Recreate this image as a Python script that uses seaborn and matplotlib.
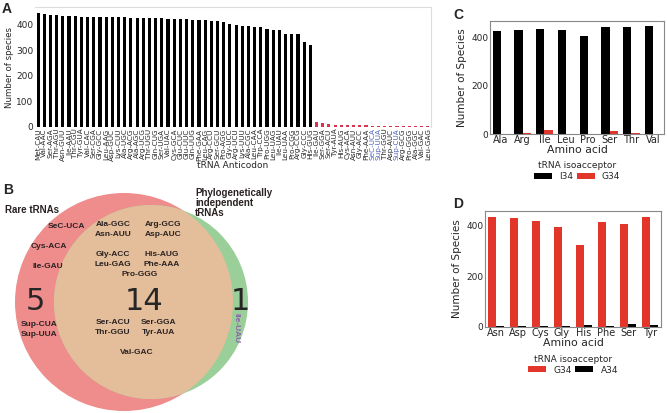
import pandas as pd
import seaborn as sns
import matplotlib.pyplot as plt
from matplotlib.patches import Circle

sns.set_style("white")
plt.rcParams["font.family"] = ["DejaVu Sans"]

# Panel A: number of species carrying each tRNA anticodon
common_anticodons = [
    "Met-CAU", "Val-AAC", "Ser-AGA", "Thr-AGU", "Asn-GUU", "Ile-AAU", "Thr-CGU", "Tyr-GUA",
    "Val-CAC", "Ser-CGA", "Gly-GCC", "Leu-AAG", "Asp-GUC", "Lys-CUU", "Ala-UGC", "Arg-ACG",
    "Ala-AGC", "Arg-UCG", "Thr-UGU", "Gln-CUG", "Ser-UGA", "Val-UAC", "Cys-GCA", "Glu-CUC",
    "Glu-UUC", "Gln-UUG", "Phe-GAA", "Leu-CAG", "Arg-CCU", "Ser-GCU", "Pro-AGG", "Gly-UCC",
    "Arg-UCU", "Lys-UUU", "Ala-CGC", "Leu-CAA", "Trp-CCA", "Pro-UGG", "Leu-UAG", "Ile-UAU",
    "Leu-UAA", "Pro-CGG", "Arg-CCG", "Gly-CCC", "His-GUG",
]
common_counts = [
    448, 443, 440, 439, 435, 433, 433, 432, 431, 430,
    430, 430, 429, 429, 429, 428, 428, 427, 427, 426,
    425, 424, 424, 423, 422, 421, 419, 418, 417, 414,
    412, 404, 398, 397, 396, 393, 391, 384, 381, 380,
    366, 364, 364, 333, 321,
]
rare_anticodons = [
    "Ile-GAU", "Ser-GGA", "Ser-ACU", "Tyr-AUA", "His-AUG", "Cys-ACA", "Asn-AUU", "Gly-ACC",
    "Phe-AAA", "SeC-UCA", "Sup-UUA", "Thr-GGU", "Asp-AUC", "Sup-CUA", "Arg-GCG", "Pro-GGG",
    "Ala-GGC", "Val-GAC", "Leu-GAG",
]
rare_counts = [18, 14, 11, 9, 8, 7, 7, 6, 6, 5, 5, 4, 4, 4, 3, 3, 3, 2, 2]
special_labels = ["SeC-UCA", "Sup-UUA", "Sup-CUA"]

# Panel B: Venn diagram contents
rare_only = ["SeC-UCA", "Cys-ACA", "Ile-GAU", "Sup-CUA", "Sup-UUA"]
shared = ["Ala-GGC", "Asn-AUU", "Arg-GCG", "Asp-AUC", "Gly-ACC", "Leu-GAG", "His-AUG",
          "Phe-AAA", "Pro-GGG", "Ser-ACU", "Thr-GGU", "Ser-GGA", "Tyr-AUA", "Val-GAC"]
independent_only = ["Ile-UAU"]

# Panel C: I34 vs G34 isoacceptors
c_amino = ["Ala", "Arg", "Ile", "Leu", "Pro", "Ser", "Thr", "Val"]
c_i34 = [425, 430, 433, 430, 406, 441, 440, 444]
c_g34 = [2, 4, 17, 0, 2, 13, 3, 1]

# Panel D: G34 vs A34 isoacceptors
d_amino = ["Asn", "Asp", "Cys", "Gly", "His", "Phe", "Ser", "Tyr"]
d_g34 = [436, 429, 420, 394, 323, 413, 407, 433]
d_a34 = [5, 2, 5, 5, 7, 5, 10, 8]

red_a = "#d8344f"
red = "#e2362b"
W, H = 667, 413


def px_axes(fig, left, top, right, bottom):
    return fig.add_axes([left / W, 1 - bottom / H, (right - left) / W, (bottom - top) / H])


fig = plt.figure(figsize=(6.67, 4.13), dpi=100)

# ---------------- A
df_a = pd.DataFrame({
    "anticodon": common_anticodons + rare_anticodons,
    "species": common_counts + rare_counts,
    "group": ["common"] * len(common_anticodons) + ["rare"] * len(rare_anticodons),
})
ax_a = px_axes(fig, 35, 7, 431, 127)
sns.barplot(data=df_a, x="anticodon", y="species", hue="group",
            palette={"common": "black", "rare": red_a}, dodge=False, width=0.5,
            saturation=1, linewidth=0, legend=False, ax=ax_a)
ax_a.set_ylim(0, 470)
ax_a.set_yticks([0, 100, 200, 300, 400])
ax_a.tick_params(axis="y", labelsize=6.5, pad=1, length=0)
ax_a.tick_params(axis="x", labelsize=5.2, pad=1, length=0, rotation=90)
ax_a.set_ylabel("Number of species", fontsize=6.2, labelpad=2)
ax_a.set_xlabel("tRNA Anticodon", fontsize=6.5, labelpad=0)
for lab in ax_a.get_xticklabels():
    if lab.get_text() in special_labels:
        lab.set_color("#4a64b8")
for side in ["left", "bottom"]:
    ax_a.spines[side].set_visible(False)
for side in ["top", "right"]:
    ax_a.spines[side].set_color("#dddddd")
    ax_a.spines[side].set_linewidth(0.8)


# ---------------- C and D
def iso_panel(ax, amino, first, second, names, colors, legend_y):
    df = pd.DataFrame({
        "amino": amino * 2,
        "count": first + second,
        "iso": [names[0]] * len(amino) + [names[1]] * len(amino),
    })
    sns.barplot(data=df, x="amino", y="count", hue="iso", palette=colors,
                width=0.76, saturation=1, linewidth=0, ax=ax)
    ax.set_yticks([0, 200, 400])
    ax.tick_params(axis="y", labelsize=6.5, pad=1, length=0)
    ax.tick_params(axis="x", labelsize=7, pad=1, length=0)
    ax.set_ylabel("Number of Species", fontsize=7.5, labelpad=3)
    ax.set_xlabel("Amino acid", fontsize=7.8, labelpad=0)
    for s in ax.spines.values():
        s.set_color("#888888")
        s.set_linewidth(0.8)
    sns.move_legend(ax, "upper center", bbox_to_anchor=(0.5, legend_y), ncol=2,
                    title="tRNA isoacceptor", frameon=False, fontsize=6.5,
                    title_fontsize=6.5, handlelength=2.0, handleheight=0.6,
                    columnspacing=0.4, handletextpad=0.8, borderpad=0,
                    labelspacing=0.2)


ax_c = px_axes(fig, 490, 21, 664, 134)
iso_panel(ax_c, c_amino, c_i34, c_g34, ["I34", "G34"], ["black", red], -0.2)
ax_d = px_axes(fig, 485, 211, 661, 327)
iso_panel(ax_d, d_amino, d_g34, d_a34, ["G34", "A34"], [red, "black"], -0.2)

# ---------------- B (Venn), drawn in pixel coordinates
ax_b = fig.add_axes([0, 0, 1, 1], zorder=-1)
ax_b.set_xlim(0, W)
ax_b.set_ylim(H, 0)
ax_b.set_axis_off()

rare_circle = Circle((124, 302), 109, facecolor="#ef8d8d", edgecolor="none")
indep_circle = Circle((151, 302), 97, facecolor="#9bcf99", edgecolor="none")
ax_b.add_patch(rare_circle)
ax_b.add_patch(indep_circle)
overlap = Circle((151, 302), 97, facecolor="#e4be9a", edgecolor="none")
ax_b.add_patch(overlap)
overlap.set_clip_path(rare_circle)

vfont = dict(family=["Liberation Sans", "DejaVu Sans"], fontweight="bold", color="#2a2222")
rare_pos = [(66, 226), (49, 246), (48, 266), (39, 325), (39, 335)]
shared_pos = [(113, 224), (113, 234), (163, 224), (163, 234), (113, 254), (113, 264),
              (162, 254), (162, 264), (140, 274), (113, 323), (113, 333), (158, 323),
              (158, 333), (137, 352)]
for name, (x, y) in zip(rare_only, rare_pos):
    ax_b.text(x, y, name, ha="center", va="center", fontsize=6, **vfont)
for name, (x, y) in zip(shared, shared_pos):
    ax_b.text(x, y, name, ha="center", va="center", fontsize=6, **vfont)
ax_b.text(236, 328, independent_only[0], ha="center", va="center", fontsize=6,
          rotation=-90, family=["Liberation Sans", "DejaVu Sans"], fontweight="bold",
          color="#8a5fae")
ax_b.text(35, 301, str(len(rare_only)), ha="center", va="center", fontsize=22)
ax_b.text(144, 301, str(len(shared)), ha="center", va="center", fontsize=22)
ax_b.text(240, 301, str(len(independent_only)), ha="center", va="center", fontsize=22)
ax_b.text(5, 210, "Rare tRNAs", ha="left", va="center", fontsize=7, **vfont)
ax_b.text(195, 203, "Phylogenetically\nindependent\ntRNAs", ha="left", va="center",
          fontsize=7, linespacing=0.95, **vfont)

# panel letters
for letter, x, y in [("A", 2, 2), ("B", 3, 183), ("C", 453, 8), ("D", 453, 197)]:
    ax_b.text(x, y, letter, ha="left", va="top", fontsize=10, fontweight="bold",
              family=["Liberation Sans", "DejaVu Sans"])

fig.savefig("out.png", dpi=100)
